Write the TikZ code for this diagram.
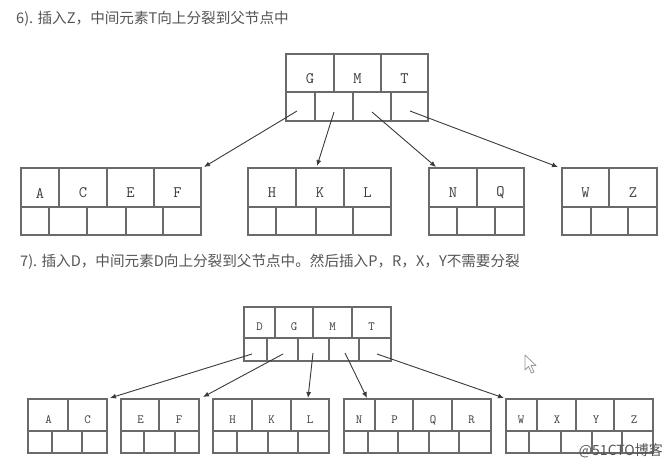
\documentclass[tikz,border=0pt]{standalone}
\usepackage{fontspec}
\newfontfamily\cjk{Noto Sans CJK SC}
\usetikzlibrary{arrows.meta}
\definecolor{boxline}{HTML}{6A6A6A}
\definecolor{arrowc}{HTML}{3A3A3A}
\definecolor{txt}{HTML}{555555}
\definecolor{keyc}{HTML}{3C3C3C}
\tikzset{
  bbox/.style={draw=boxline, line width=1.1pt, inner sep=0pt, outer sep=0pt, anchor=north west},
  div/.style={draw=boxline, line width=1.1pt},
  keybig/.style={font=\ttfamily\fontsize{16}{16}\selectfont, text=keyc, inner sep=0pt},
  keysmall/.style={font=\ttfamily\fontsize{12.5}{12.5}\selectfont, text=keyc, inner sep=0pt},
  ptr/.style={draw=arrowc, line width=0.9pt, -{Latex[length=6pt,width=5pt]}},
  head/.style={font=\cjk\fontsize{14.6}{14.6}\selectfont, text=txt, anchor=west, inner sep=0pt},
}
% #1 name, #2 x0, #3 x1, #4 ytop, #5 ymid, #6 ybot, #7 key dividers, #8 pointer dividers
\newcommand{\btnode}[8]{%
  \node[bbox, minimum width={(#3-#2)*1pt}, minimum height={(#6-#4)*1pt}] (#1) at (#2,#4) {};
  \draw[div] (#2,#5) -- (#3,#5);
  \foreach \xx in {#7} {\draw[div] (\xx,#4) -- (\xx,#5);}
  \foreach \xx in {#8} {\draw[div] (\xx,#5) -- (\xx,#6);}
}
\begin{document}
\begin{tikzpicture}[x=1pt,y=-1pt]
\fill[white] (0,0) rectangle (672,469);
\useasboundingbox (0,0) rectangle (672,469);

% headers
\node[head] (h6) at (16,19) {6). 插入Z，中间元素T向上分裂到父节点中};
\node[head] (h7) at (20,262) {7). 插入D，中间元素D向上分裂到父节点中。然后插入P，R，X，Y不需要分裂};

% ---------- step 6 ----------
\btnode{r6}{286}{428}{54}{92}{121}{334,381}{315,353,391}
\node[keybig] (r6G) at (310,79) {G};
\node[keybig] (r6M) at (357.5,79) {M};
\node[keybig] (r6T) at (404.5,79) {T};

\btnode{l6a}{21}{201}{168}{207}{235}{59,107,154}{49,87,126,163}
\node[keybig] (l6A) at (40,193) {A};
\node[keybig] (l6C) at (83,193) {C};
\node[keybig] (l6E) at (130.5,193) {E};
\node[keybig] (l6F) at (177.5,193) {F};

\btnode{l6b}{248}{391}{168}{207}{235}{296,344}{276,316,353}
\node[keybig] (l6H) at (272,193) {H};
\node[keybig] (l6K) at (320,193) {K};
\node[keybig] (l6L) at (367.5,193) {L};

\btnode{l6c}{429}{524}{168}{207}{235}{477}{457,495}
\node[keybig] (l6N) at (453,193) {N};
\node[keybig] (l6Q) at (500.5,193) {Q};

\btnode{l6d}{562}{657}{168}{207}{235}{609}{591,628}
\node[keybig] (l6W) at (585.5,193) {W};
\node[keybig] (l6Z) at (633,193) {Z};

\coordinate (s6a) at (297,111);
\coordinate (s6b) at (334,112);
\coordinate (s6c) at (372,112);
\coordinate (s6d) at (410,111);
\coordinate (e6a) at (204,167);
\coordinate (e6b) at (317,166);
\coordinate (e6c) at (436,167);
\coordinate (e6d) at (558,167);
\draw[ptr] (s6a) -- (e6a);
\draw[ptr] (s6b) -- (e6b);
\draw[ptr] (s6c) -- (e6c);
\draw[ptr] (s6d) -- (e6d);

% ---------- step 7 ----------
\btnode{r7}{244}{391}{307}{338}{361}{275,313,352}{267,298,329,359}
\node[keysmall] (r7D) at (259.5,327) {D};
\node[keysmall] (r7G) at (294,327) {G};
\node[keysmall] (r7M) at (332.5,327) {M};
\node[keysmall] (r7T) at (371.5,327) {T};

\btnode{l7a}{28}{107}{399}{431}{453}{68}{52,82}
\node[keysmall] (l7A) at (48.5,420) {A};
\node[keysmall] (l7C) at (87.5,420) {C};

\btnode{l7b}{121}{199}{399}{431}{453}{159}{144,175}
\node[keysmall] (l7E) at (140.5,420) {E};
\node[keysmall] (l7F) at (179,420) {F};

\btnode{l7c}{213}{329}{399}{431}{453}{252,291}{237,268,298}
\node[keysmall] (l7H) at (232.5,420) {H};
\node[keysmall] (l7K) at (271.5,420) {K};
\node[keysmall] (l7L) at (310,420) {L};

\btnode{l7d}{344}{491}{399}{431}{453}{375,413,452}{368,398,429,459}
\node[keysmall] (l7N) at (359,420) {N};
\node[keysmall] (l7P) at (394.5,420) {P};
\node[keysmall] (l7Q) at (433,420) {Q};
\node[keysmall] (l7R) at (471.5,420) {R};

\btnode{l7e}{506}{653}{399}{431}{453}{537,576,614}{529,561,592,622}
\node[keysmall] (l7W) at (521,420) {W};
\node[keysmall] (l7X) at (557,420) {X};
\node[keysmall] (l7Y) at (596,420) {Y};
\node[keysmall] (l7Z) at (634,420) {Z};

\coordinate (s7a) at (252,354);
\coordinate (s7b) at (283,354);
\coordinate (s7c) at (313,353);
\coordinate (s7d) at (345,353);
\coordinate (s7e) at (377,354);
\coordinate (e7a) at (110,398);
\coordinate (e7b) at (203,397);
\coordinate (e7c) at (308,398);
\coordinate (e7d) at (367,398);
\coordinate (e7e) at (504,398);
\draw[ptr] (s7a) -- (e7a);
\draw[ptr] (s7b) -- (e7b);
\draw[ptr] (s7c) -- (e7c);
\draw[ptr] (s7d) -- (e7d);
\draw[ptr] (s7e) -- (e7e);

% mouse cursor
\draw[draw=gray!80, fill=white, line width=0.8pt, line join=round]
  (525,355) -- (525,370) -- (528.5,366.5) -- (531.5,373) -- (534,372) -- (531,365.5) -- (536,365.5) -- cycle;

% watermark
\node[font=\cjk\fontsize{14}{14}\selectfont, text=txt, inner sep=0pt, anchor=east] (wm) at (663,451) {@51CTO博客};
\end{tikzpicture}
\end{document}
